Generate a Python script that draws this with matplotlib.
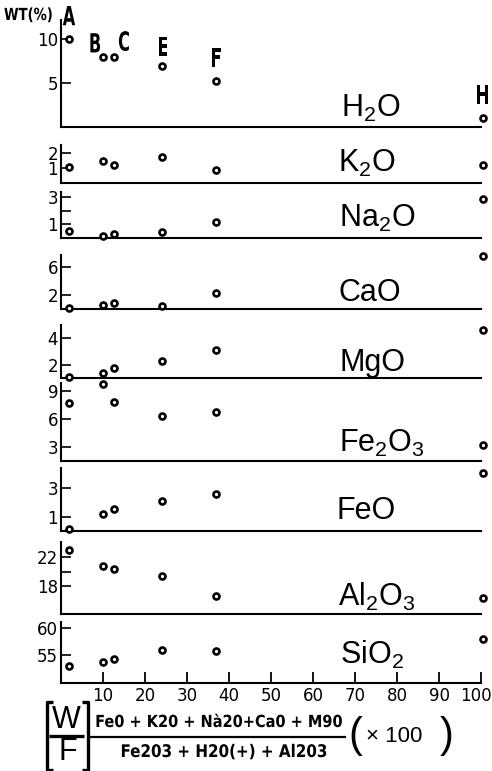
import matplotlib
matplotlib.use('Agg')
import matplotlib.pyplot as plt
from matplotlib.lines import Line2D
from matplotlib import font_manager as fm
from matplotlib.patheffects import AbstractPathEffect
from matplotlib.transforms import Affine2D, ScaledTranslation

# ---------------- data ----------------
samples = ['A', 'B', 'C', 'E', 'F', 'H']
wf_index = [2.0, 10.0, 12.5, 24.0, 37.0, 100.5]

h2o = [10.0, 7.95, 7.95, 6.9, 5.3, 1.0]
k2o = [1.07, 1.47, 1.2, 1.73, 0.87, 1.2]
na2o = [0.5, 0.15, 0.3, 0.45, 1.2, 2.85]
cao = [0.1, 0.55, 0.85, 0.45, 2.3, 7.5]
mgo = [1.07, 1.4, 1.78, 2.3, 3.1, 4.6]
fe2o3 = [7.7, 9.75, 7.8, 6.3, 6.75, 3.2]
feo = [0.17, 1.2, 1.55, 2.1, 2.6, 4.0]
al2o3 = [22.97, 20.8, 20.35, 19.4, 16.6, 16.3]
sio2 = [53.0, 53.7, 54.3, 56.0, 55.7, 58.0]

oxide_labels = ['H$_2$O', 'K$_2$O', 'Na$_2$O', 'CaO', 'MgO',
                'Fe$_2$O$_3$', 'FeO', 'Al$_2$O$_3$', 'SiO$_2$']
series = [h2o, k2o, na2o, cao, mgo, fe2o3, feo, al2o3, sio2]

y_ticks = [[5, 10], [1, 2], [1, 2, 3], [2, 6], [2, 4], [3, 6, 9], [1, 3],
           [18, 20, 22], [55, 60]]
y_ticklabels = [['5', '10'], ['1', '2'], ['1', '', '3'], ['2', '6'],
                ['2', '4'], ['3', '6', '9'], ['1', '3'], ['18', '', '22'],
                ['55', '60']]
x_ticks = [10, 20, 30, 40, 50, 60, 70, 80, 90, 100]
x_ticklabels = ['10', '20', '30', '40', '50', '60', '70', '80', '90', '100']

# ---------------- layout (pixels of a 492 x 771 figure) ----------------
W, H = 492, 771
panel_px = [(20, 127), (145, 183), (192, 238), (255, 309), (325, 378),
            (383, 461), (468, 531), (542, 614), (622, 683)]
panel_ylim = [(0, 12.2), (0, 2.53), (0, 3.35), (0, 7.7), (1.0, 4.95),
              (1.5, 9.86), (0, 4.38), (14.1, 24.1), (49.8, 61.1)]
label_px = [(371, 108), (367, 163), (377, 218), (370, 293), (373, 363),
            (382, 443), (366, 511), (377, 597), (372, 655)]
letter_pos = [(1.9, 12.4), (8.1, 9.3), (15.0, 9.5), (24.3, 8.9),
              (37.0, 7.6), (100.4, 3.4)]
x_left, x_right = 61, 481

names = {f.name for f in fm.fontManager.ttflist}
sans = 'Liberation Sans' if 'Liberation Sans' in names else 'DejaVu Sans'
cond = dict(family='DejaVu Sans', stretch='condensed')

plt.rcParams['font.family'] = ['DejaVu Sans']
plt.rcParams['mathtext.fontset'] = 'custom'
plt.rcParams['mathtext.rm'] = sans
plt.rcParams['mathtext.it'] = sans
plt.rcParams['mathtext.default'] = 'regular'

fig = plt.figure(figsize=(W / 100, H / 100), dpi=100)


def fx(px):
    return px / W


def fy(py):
    return 1 - py / H


class Squeeze(AbstractPathEffect):
    """Draw text glyphs horizontally condensed around a display x."""

    def __init__(self, sx, cx):
        super().__init__()
        self.sx = sx
        self.cx = cx

    def draw_path(self, renderer, gc, tpath, affine, rgbFace=None):
        t = affine + Affine2D().translate(-self.cx, 0).scale(self.sx, 1) \
            .translate(self.cx, 0)
        renderer.draw_path(gc, tpath, t, rgbFace)


axes = []
for i, (vals, (top, base), ylim) in enumerate(zip(series, panel_px, panel_ylim)):
    ax = fig.add_axes([fx(x_left), fy(base), fx(x_right - x_left),
                       (base - top) / H])
    ax.set_xlim(0, 100)
    ax.set_ylim(*ylim)
    ax.plot(wf_index, vals, 'o', ms=4.3, mfc='white', mec='black', mew=1.9,
            clip_on=False, zorder=5)
    for s in ['top', 'right']:
        ax.spines[s].set_visible(False)
    for s in ['left', 'bottom']:
        ax.spines[s].set_linewidth(1.5)
    ax.set_yticks(y_ticks[i])
    ax.set_yticklabels(y_ticklabels[i], fontsize=12)
    ax.tick_params(axis='y', direction='in', length=7, width=1.2, pad=2)
    if i == len(series) - 1:
        ax.set_xticks(x_ticks)
        ax.set_xticklabels(x_ticklabels, fontsize=12)
        ax.tick_params(axis='x', direction='in', length=8, width=1.3, pad=3)
        last = ax.get_xticklabels()[-1]
        last.set_transform(last.get_transform() +
                           ScaledTranslation(-0.05, 0, fig.dpi_scale_trans))
    else:
        ax.set_xticks([])
    ax.patch.set_alpha(0)
    lx, ly = label_px[i]
    fig.text(fx(lx), fy(ly), oxide_labels[i], fontsize=22, ha='center',
             va='center', family=sans)
    axes.append(ax)

# sample letters on the top panel (bold, condensed)
for lab, (x, y) in zip(samples, letter_pos):
    cx = axes[0].transData.transform((x, y))[0]
    axes[0].text(x, y, lab, fontsize=19, fontweight='bold', ha='center',
                 va='center', clip_on=False, path_effects=[Squeeze(0.68, cx)],
                 **cond)

fig.text(fx(4), fy(15), 'WT(%)', fontsize=12, fontweight='bold',
         ha='left', va='center', path_effects=[Squeeze(0.88, 4)], **cond)

# ---------------- x-axis formula ----------------
def fline(xs, ys, lw):
    fig.add_artist(Line2D([fx(x) for x in xs], [fy(y) for y in ys],
                          color='black', lw=lw, solid_capstyle='butt'))


fline([53, 47, 47, 53], [702, 702, 770, 770], 2.4)
fline([82, 88, 88, 82], [702, 702, 770, 770], 2.4)
fline([49, 84], [736, 736], 2.4)
fig.text(fx(66), fy(720), 'W', fontsize=22, ha='center', va='center',
         family=sans)
fig.text(fx(68), fy(752), 'F', fontsize=22, ha='center', va='center',
         family=sans)
fline([90, 346], [737, 737], 1.6)
fig.text(fx(219), fy(722), 'Fe0 + K20 + Nà20+Ca0 + M90', fontsize=12,
         fontweight='bold', ha='center', va='center',
         path_effects=[Squeeze(0.97, 219)], **cond)
fig.text(fx(224), fy(752), 'Fe203 + H20(+) + Al203', fontsize=12.5,
         fontweight='bold', ha='center', va='center',
         path_effects=[Squeeze(0.97, 224)], **cond)
fig.text(fx(355), fy(736), '(', fontsize=30, ha='center', va='center',
         family=sans)
fig.text(fx(394), fy(737), '× 100', fontsize=16, ha='center', va='center',
         family=sans)
fig.text(fx(447), fy(736), ')', fontsize=30, ha='center', va='center',
         family=sans)

fig.savefig('out.png', dpi=100)
